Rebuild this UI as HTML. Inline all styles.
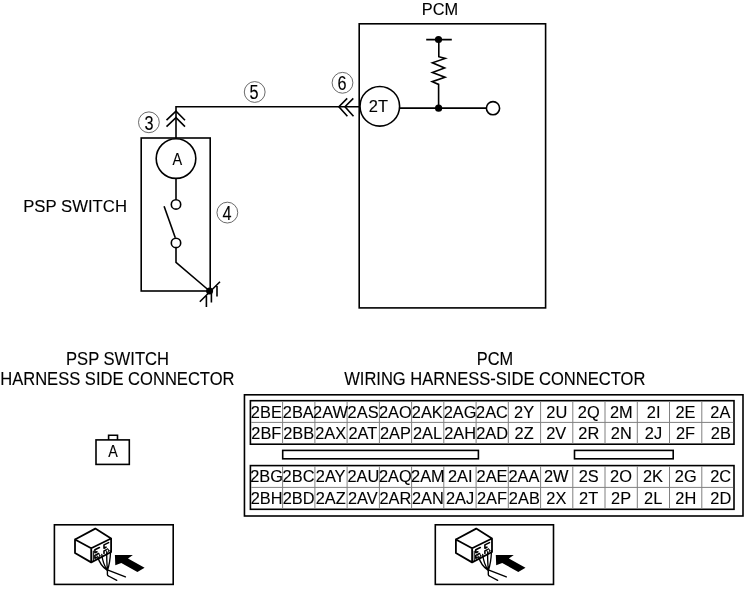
<!DOCTYPE html>
<html><head><meta charset="utf-8"><style>
html,body{margin:0;padding:0;background:#fff;}
svg{display:block;will-change:transform;}
text{font-family:"Liberation Sans",sans-serif;fill:#000;stroke:#000;stroke-width:0.12px;}
</style></head><body>
<svg width="746" height="593" viewBox="0 0 746 593">
<rect width="746" height="593" fill="#fff"/>
<text transform="translate(421.81,15.00) scale(0.9632,1)" font-size="17.0">PCM</text>
<text transform="translate(23.18,211.60) scale(0.9844,1)" font-size="17.0">PSP SWITCH</text>
<g fill="none" stroke="#000" stroke-width="1.6">
<rect x="359.2" y="23.8" width="186.4" height="284.1"/>
<rect x="141.2" y="138" width="69" height="153"/>
<path d="M176,138 L176,106.7 L359.2,106.7"/>
<path d="M166.5,120.2 L176,111.2 L185,120.2 M166.5,126.6 L176,117.6 L185,126.6"/>
<path d="M347.2,98.4 L338.9,106.7 L347.4,116.2 M353.3,98.4 L345,106.7 L353.5,116.2"/>
<circle cx="379.8" cy="106.3" r="19.8" fill="#fff"/>
<circle cx="176" cy="158.6" r="19.8" fill="#fff"/>
<path d="M176,178.4 L176,199.7"/>
<circle cx="176" cy="204.4" r="4.7"/>
<path d="M164.1,206.3 L175.3,237.8"/>
<circle cx="176" cy="242.9" r="4.7"/>
<path d="M176,247.6 L176,262.4 L209.6,291"/>
<path d="M199.8,301.7 L220,281.8 M206.4,296 L206.4,307.1 M211.4,293.6 L211.4,302.4 M217,285.9 L217,296.6"/>
<path d="M426.2,39.6 L451.8,39.6 M438.8,39.6 L438.8,56.7 L445.2,58.4 L432.4,62.8 L444.6,67.9 L432.4,72.6 L445,77.3 L432.2,81.7 L438.6,84.4 L438.6,108.3 M399.6,108.1 L486.4,108.1"/>
<circle cx="493" cy="108.2" r="6.6" fill="#fff"/>
</g>
<circle cx="209.6" cy="291" r="3.5"/>
<circle cx="438.5" cy="39.5" r="3.6"/>
<circle cx="438.6" cy="108.2" r="3.6"/>
<text transform="translate(368.83,112.00) scale(0.9678,1)" font-size="17.0">2T</text>
<text transform="translate(172.62,165.00) scale(0.8517,1)" font-size="17.0">A</text>
<circle cx="148.9" cy="122.3" r="10.4" fill="none" stroke="#444" stroke-width="0.8"/><text transform="translate(148.9,129.5) scale(0.8,1)" text-anchor="middle" font-size="20.3" stroke="#000" stroke-width="0.15">3</text>
<circle cx="254.7" cy="92" r="10.4" fill="none" stroke="#444" stroke-width="0.8"/><text transform="translate(253.89999999999998,99.2) scale(0.8,1)" text-anchor="middle" font-size="20.3" stroke="#000" stroke-width="0.15">5</text>
<circle cx="342.5" cy="82.8" r="10.4" fill="none" stroke="#444" stroke-width="0.8"/><text transform="translate(342.1,89.6) scale(0.8,1)" text-anchor="middle" font-size="20.3" stroke="#000" stroke-width="0.15">6</text>
<circle cx="227.35" cy="212.6" r="10.4" fill="none" stroke="#444" stroke-width="0.8"/><text transform="translate(227.04999999999998,219.79999999999998) scale(0.8,1)" text-anchor="middle" font-size="20.3" stroke="#000" stroke-width="0.15">4</text>
<text transform="translate(65.99,364.60) scale(0.9497,1)" font-size="17.5">PSP SWITCH</text>
<text transform="translate(0.19,384.80) scale(0.9418,1)" font-size="17.6">HARNESS SIDE CONNECTOR</text>
<text transform="translate(476.81,364.50) scale(0.9357,1)" font-size="17.5">PCM</text>
<text transform="translate(344.17,384.80) scale(0.9402,1)" font-size="17.6">WIRING HARNESS-SIDE CONNECTOR</text>
<g fill="none" stroke="#000" stroke-width="1.6">
<rect x="96" y="439.9" width="33.3" height="24.5"/>
<path d="M108.6,439.9 L108.6,435.3 L117.5,435.3 L117.5,439.9"/>
</g>
<text transform="translate(108.22,456.70) scale(0.8429,1)" font-size="17.0">A</text>
<g fill="none" stroke="#000" stroke-width="1.6">
<rect x="244.45" y="394.8" width="498.55" height="121.2"/>
<rect x="250.4" y="400.7" width="483.6" height="43.5"/>
<rect x="250.4" y="465.6" width="483.6" height="43.7"/>
<rect x="282.7" y="450.4" width="195.7" height="8.4"/>
<rect x="574.5" y="450.4" width="98.7" height="8.4"/>
</g>
<g stroke="#808080" stroke-width="1" fill="none">
<path d="M282.6,401.2 V443.6 M282.6,466.2 V508.8"/>
<path d="M314.9,401.2 V443.6 M314.9,466.2 V508.8"/>
<path d="M347.1,401.2 V443.6 M347.1,466.2 V508.8"/>
<path d="M379.4,401.2 V443.6 M379.4,466.2 V508.8"/>
<path d="M411.6,401.2 V443.6 M411.6,466.2 V508.8"/>
<path d="M443.8,401.2 V443.6 M443.8,466.2 V508.8"/>
<path d="M476.1,401.2 V443.6 M476.1,466.2 V508.8"/>
<path d="M508.3,401.2 V443.6 M508.3,466.2 V508.8"/>
<path d="M540.6,401.2 V443.6 M540.6,466.2 V508.8"/>
<path d="M572.8,401.2 V443.6 M572.8,466.2 V508.8"/>
<path d="M605.0,401.2 V443.6 M605.0,466.2 V508.8"/>
<path d="M637.3,401.2 V443.6 M637.3,466.2 V508.8"/>
<path d="M669.5,401.2 V443.6 M669.5,466.2 V508.8"/>
<path d="M701.8,401.2 V443.6 M701.8,466.2 V508.8"/>
<path d="M251.2,422.4 H733.2 M251.2,487.4 H733.2"/>
</g>
<g>
<text transform="translate(250.87,417.60) scale(0.9700,1)" font-size="16.9">2BE</text>
<text transform="translate(282.78,417.60) scale(0.9700,1)" font-size="16.9">2BA</text>
<text transform="translate(313.06,417.60) scale(0.9700,1)" font-size="16.9">2AW</text>
<text transform="translate(347.62,417.60) scale(0.9700,1)" font-size="16.9">2AS</text>
<text transform="translate(378.96,417.60) scale(0.9700,1)" font-size="16.9">2AO</text>
<text transform="translate(411.82,417.60) scale(0.9700,1)" font-size="16.9">2AK</text>
<text transform="translate(443.66,417.60) scale(0.9700,1)" font-size="16.9">2AG</text>
<text transform="translate(476.06,417.60) scale(0.9700,1)" font-size="16.9">2AC</text>
<text transform="translate(514.09,417.60) scale(0.9700,1)" font-size="16.9">2Y</text>
<text transform="translate(546.33,417.60) scale(0.9700,1)" font-size="16.9">2U</text>
<text transform="translate(577.87,417.60) scale(0.9700,1)" font-size="16.9">2Q</text>
<text transform="translate(609.94,417.60) scale(0.9700,1)" font-size="16.9">2M</text>
<text transform="translate(646.81,417.60) scale(0.9700,1)" font-size="16.9">2I</text>
<text transform="translate(675.46,417.60) scale(0.9700,1)" font-size="16.9">2E</text>
<text transform="translate(710.36,417.60) scale(0.9700,1)" font-size="16.9">2A</text>
<text transform="translate(251.31,439.40) scale(0.9700,1)" font-size="16.9">2BF</text>
<text transform="translate(283.19,439.40) scale(0.9700,1)" font-size="16.9">2BB</text>
<text transform="translate(315.17,439.40) scale(0.9700,1)" font-size="16.9">2AX</text>
<text transform="translate(348.49,439.40) scale(0.9700,1)" font-size="16.9">2AT</text>
<text transform="translate(379.91,439.40) scale(0.9700,1)" font-size="16.9">2AP</text>
<text transform="translate(412.90,439.40) scale(0.9700,1)" font-size="16.9">2AL</text>
<text transform="translate(444.17,439.40) scale(0.9700,1)" font-size="16.9">2AH</text>
<text transform="translate(476.14,439.40) scale(0.9700,1)" font-size="16.9">2AD</text>
<text transform="translate(514.62,439.40) scale(0.9700,1)" font-size="16.9">2Z</text>
<text transform="translate(546.19,439.40) scale(0.9700,1)" font-size="16.9">2V</text>
<text transform="translate(578.32,439.40) scale(0.9700,1)" font-size="16.9">2R</text>
<text transform="translate(610.84,439.40) scale(0.9700,1)" font-size="16.9">2N</text>
<text transform="translate(644.84,439.40) scale(0.9700,1)" font-size="16.9">2J</text>
<text transform="translate(675.89,439.40) scale(0.9700,1)" font-size="16.9">2F</text>
<text transform="translate(710.78,439.40) scale(0.9700,1)" font-size="16.9">2B</text>
<text transform="translate(250.22,481.60) scale(0.9700,1)" font-size="16.9">2BG</text>
<text transform="translate(282.62,481.60) scale(0.9700,1)" font-size="16.9">2BC</text>
<text transform="translate(315.79,481.60) scale(0.9700,1)" font-size="16.9">2AY</text>
<text transform="translate(347.42,481.60) scale(0.9700,1)" font-size="16.9">2AU</text>
<text transform="translate(378.96,481.60) scale(0.9700,1)" font-size="16.9">2AQ</text>
<text transform="translate(411.03,481.60) scale(0.9700,1)" font-size="16.9">2AM</text>
<text transform="translate(447.90,481.60) scale(0.9700,1)" font-size="16.9">2AI</text>
<text transform="translate(476.55,481.60) scale(0.9700,1)" font-size="16.9">2AE</text>
<text transform="translate(508.46,481.60) scale(0.9700,1)" font-size="16.9">2AA</text>
<text transform="translate(543.91,481.60) scale(0.9700,1)" font-size="16.9">2W</text>
<text transform="translate(578.76,481.60) scale(0.9700,1)" font-size="16.9">2S</text>
<text transform="translate(610.11,481.60) scale(0.9700,1)" font-size="16.9">2O</text>
<text transform="translate(642.96,481.60) scale(0.9700,1)" font-size="16.9">2K</text>
<text transform="translate(674.81,481.60) scale(0.9700,1)" font-size="16.9">2G</text>
<text transform="translate(710.21,481.60) scale(0.9700,1)" font-size="16.9">2C</text>
<text transform="translate(250.73,503.90) scale(0.9700,1)" font-size="16.9">2BH</text>
<text transform="translate(282.70,503.90) scale(0.9700,1)" font-size="16.9">2BD</text>
<text transform="translate(315.71,503.90) scale(0.9700,1)" font-size="16.9">2AZ</text>
<text transform="translate(347.89,503.90) scale(0.9700,1)" font-size="16.9">2AV</text>
<text transform="translate(379.41,503.90) scale(0.9700,1)" font-size="16.9">2AR</text>
<text transform="translate(411.93,503.90) scale(0.9700,1)" font-size="16.9">2AN</text>
<text transform="translate(445.93,503.90) scale(0.9700,1)" font-size="16.9">2AJ</text>
<text transform="translate(476.99,503.90) scale(0.9700,1)" font-size="16.9">2AF</text>
<text transform="translate(508.87,503.90) scale(0.9700,1)" font-size="16.9">2AB</text>
<text transform="translate(546.32,503.90) scale(0.9700,1)" font-size="16.9">2X</text>
<text transform="translate(579.03,503.90) scale(0.9700,1)" font-size="16.9">2T</text>
<text transform="translate(611.06,503.90) scale(0.9700,1)" font-size="16.9">2P</text>
<text transform="translate(644.05,503.90) scale(0.9700,1)" font-size="16.9">2L</text>
<text transform="translate(675.32,503.90) scale(0.9700,1)" font-size="16.9">2H</text>
<text transform="translate(710.29,503.90) scale(0.9700,1)" font-size="16.9">2D</text>
</g>
<g transform="translate(0,0)" fill="none" stroke="#000" stroke-linejoin="round" stroke-linecap="round">
<rect x="54.4" y="524.8" width="118.8" height="59.6" stroke-width="1.6" stroke-linejoin="miter"/>
<path d="M75,539.5 L95.3,528.6 L111.1,538.5 L91.2,548.3 Z M75,539.5 V553 L91.2,562.4 V548.3 M111.1,538.5 V552 L91.2,562.4" stroke-width="1.8"/>
<path d="M93.3,560.5 V551" stroke-width="1.1"/>
<path d="M99.4,547.5 L94.9,549.7 V552.8 L97,551.8 M98.7,553.5 L94.9,555.4 V558.2 L96.3,557.5 M108.6,542.6 L104,544.9 V548.2 L106,547.2 M107.6,549.1 L104,550.9 V553.5" stroke-width="1.6"/>
<path d="M97.5,556 C99,562 103,567.5 107.4,570.5 M101.8,554.5 C102.5,561 105,567 107.4,570.5 M106.8,551.5 C106.5,558 107,565 107.4,570.5 M110.6,551 C110.3,559 109,566 107.4,570.5" stroke-width="1.35"/>
<circle cx="98.4" cy="555.6" r="1.5" fill="#fff" stroke-width="1"/>
<circle cx="107.5" cy="550.7" r="1.5" fill="#fff" stroke-width="1"/>
<path d="M107.4,569.8 L125.4,576.9 M107.4,569.8 V574.5 Q107.4,575.5 108.5,576 L116.8,580.3" stroke-width="1.4"/>
<polygon points="114.9,555.1 132.9,555.1 128,558.5 144.6,567.7 137.4,571.9 121.3,563 115.3,565.3" fill="#000" stroke="none"/>
</g>
<g transform="translate(380.9,0)" fill="none" stroke="#000" stroke-linejoin="round" stroke-linecap="round">
<rect x="54.4" y="524.8" width="118.2" height="59.6" stroke-width="1.6" stroke-linejoin="miter"/>
<path d="M75,539.5 L95.3,528.6 L111.1,538.5 L91.2,548.3 Z M75,539.5 V553 L91.2,562.4 V548.3 M111.1,538.5 V552 L91.2,562.4" stroke-width="1.8"/>
<path d="M93.3,560.5 V551" stroke-width="1.1"/>
<path d="M99.4,547.5 L94.9,549.7 V552.8 L97,551.8 M98.7,553.5 L94.9,555.4 V558.2 L96.3,557.5 M108.6,542.6 L104,544.9 V548.2 L106,547.2 M107.6,549.1 L104,550.9 V553.5" stroke-width="1.6"/>
<path d="M97.5,556 C99,562 103,567.5 107.4,570.5 M101.8,554.5 C102.5,561 105,567 107.4,570.5 M106.8,551.5 C106.5,558 107,565 107.4,570.5 M110.6,551 C110.3,559 109,566 107.4,570.5" stroke-width="1.35"/>
<circle cx="98.4" cy="555.6" r="1.5" fill="#fff" stroke-width="1"/>
<circle cx="107.5" cy="550.7" r="1.5" fill="#fff" stroke-width="1"/>
<path d="M107.4,569.8 L125.4,576.9 M107.4,569.8 V574.5 Q107.4,575.5 108.5,576 L116.8,580.3" stroke-width="1.4"/>
<polygon points="114.9,555.1 132.9,555.1 128,558.5 144.6,567.7 137.4,571.9 121.3,563 115.3,565.3" fill="#000" stroke="none"/>
</g>
</svg>
</body></html>
